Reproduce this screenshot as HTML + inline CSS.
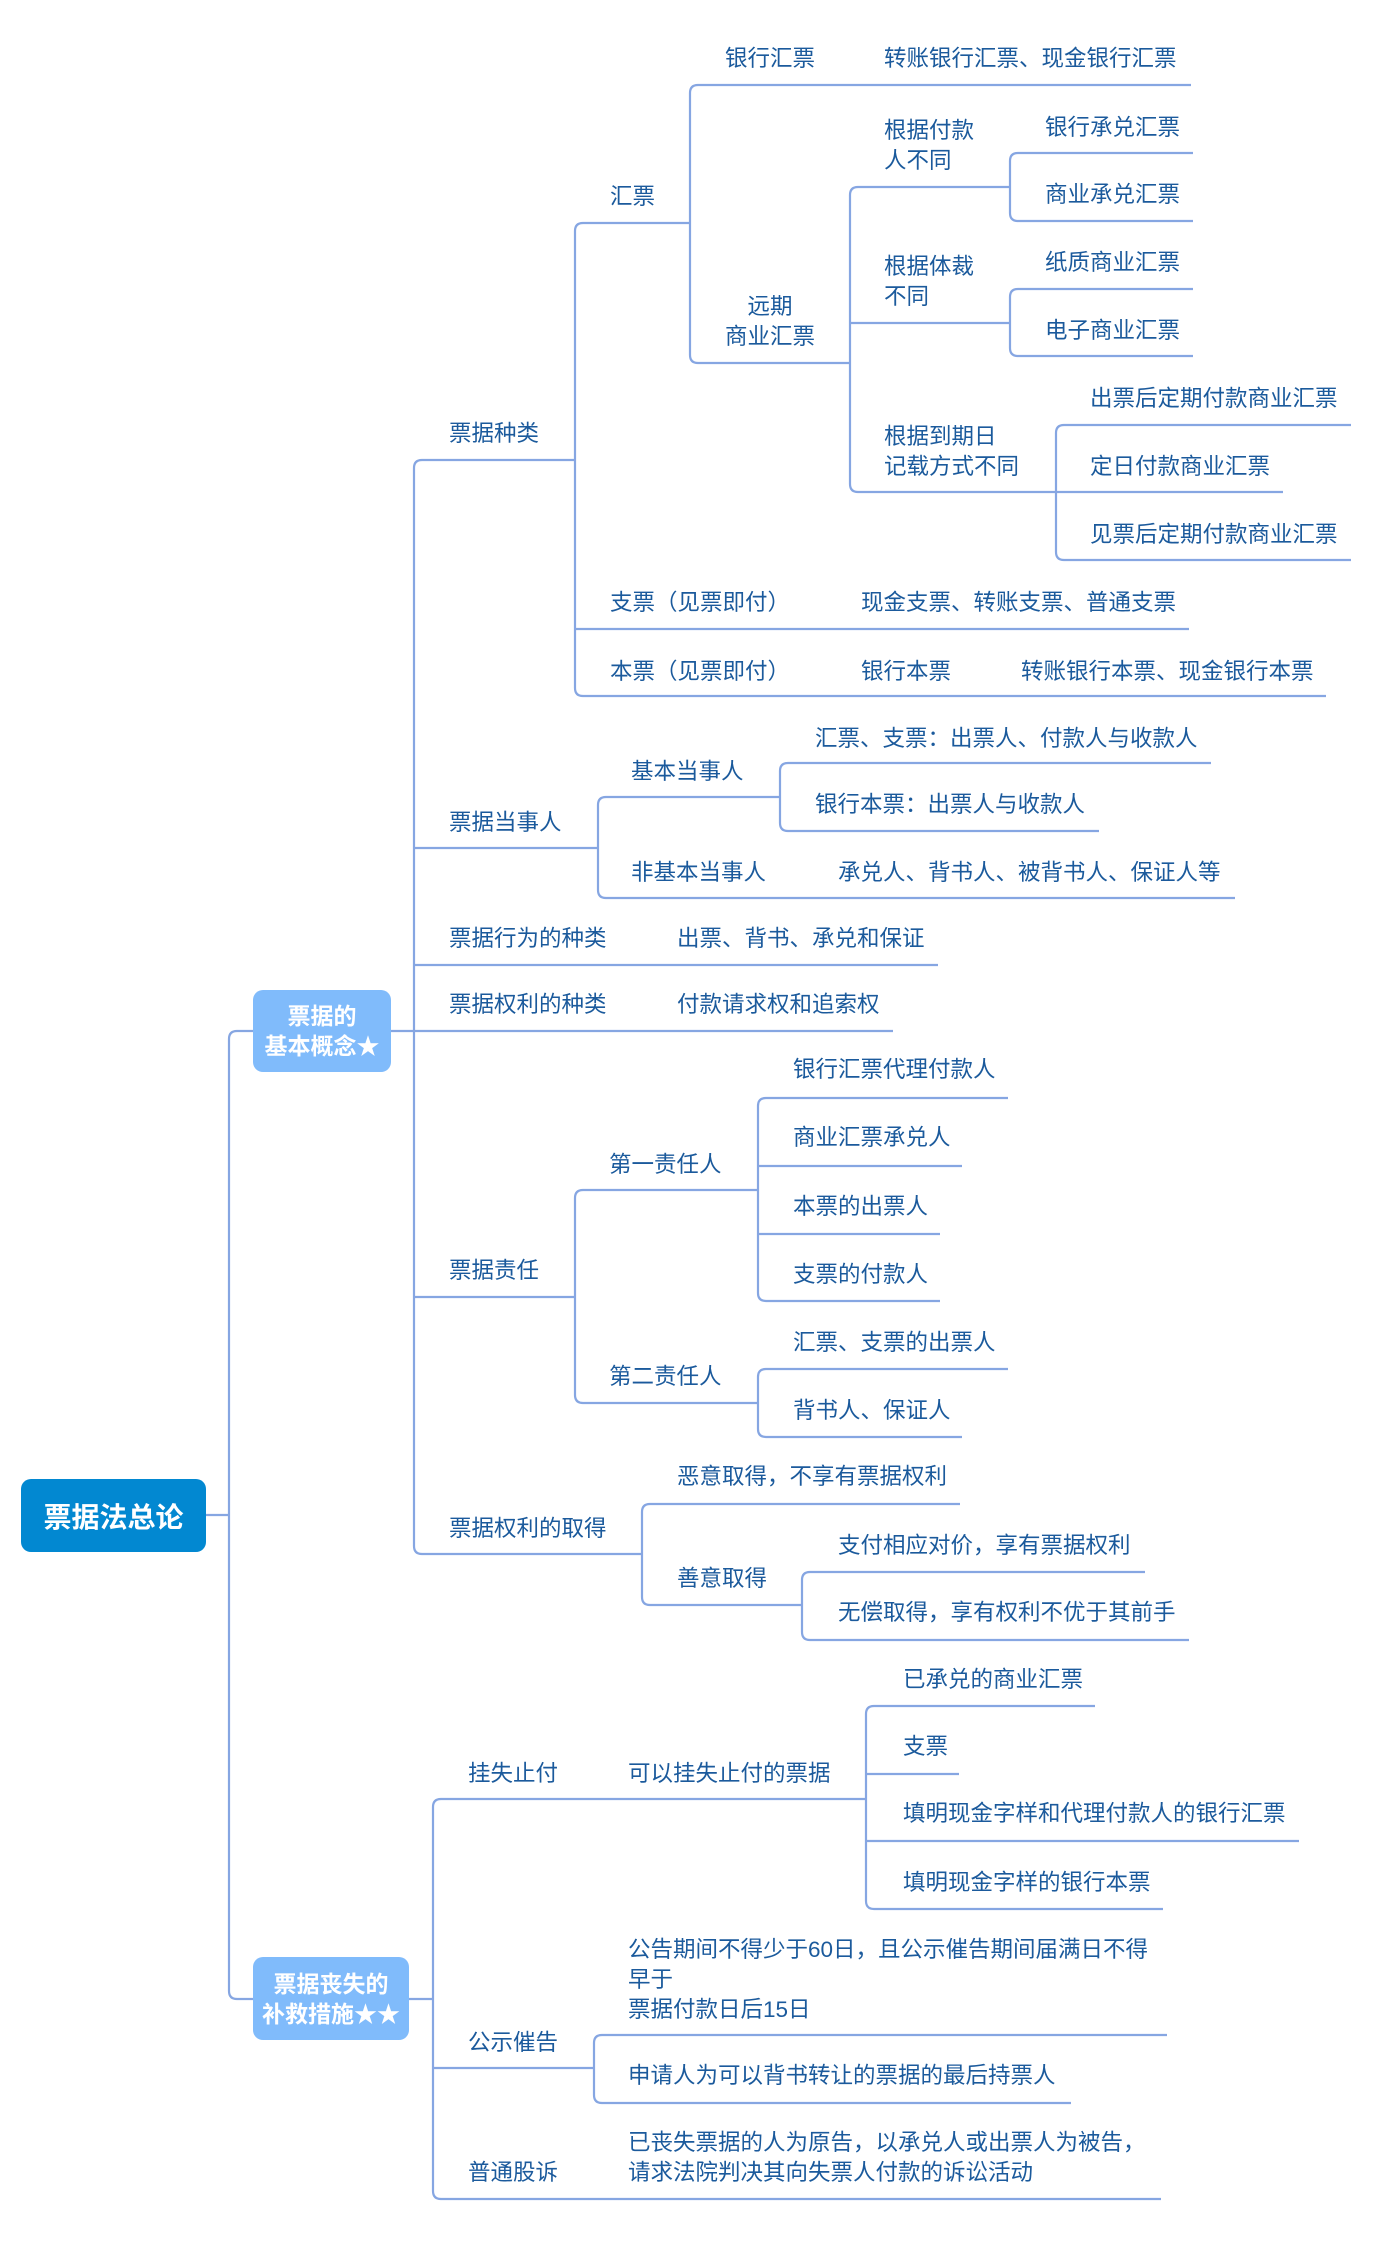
<!DOCTYPE html>
<html><head><meta charset="utf-8">
<style>
html,body{margin:0;padding:0;background:#fff;}
body{width:1386px;height:2247px;position:relative;overflow:hidden;font-family:"Liberation Sans","Noto Sans CJK SC",sans-serif;}
.t{position:absolute;font-size:22.5px;line-height:30px;color:#1b5a9c;white-space:nowrap;}
.b{position:absolute;display:flex;align-items:center;justify-content:center;text-align:center;color:#fff;font-weight:bold;border-radius:10px;}
svg{position:absolute;left:0;top:0;}
</style></head><body>
<svg width="1386" height="2247" fill="none" stroke="#86a6e2" stroke-width="2.2">
<path d="M206,1515 L229,1515"/>
<path d="M253,1031 L237,1031 Q229,1031 229,1039 L229,1991 Q229,1999 237,1999 L253,1999"/>
<path d="M575,460 L422,460 Q414,460 414,468 L414,1546 Q414,1554 422,1554 L642,1554"/>
<path d="M391,1031 L893,1031 M414,848 L598,848 M414,965 L938,965 M414,1297 L575,1297"/>
<path d="M690,223 L583,223 Q575,223 575,231 L575,688 Q575,696 583,696 L1326,696 M575,629 L1189,629"/>
<path d="M1191,85 L698,85 Q690,85 690,93 L690,355 Q690,363 698,363 L850,363"/>
<path d="M1010,187 L858,187 Q850,187 850,195 L850,484 Q850,492 858,492 L1056,492 M850,323 L1010,323"/>
<path d="M1193,153 L1018,153 Q1010,153 1010,161 L1010,213 Q1010,221 1018,221 L1193,221"/>
<path d="M1193,289 L1018,289 Q1010,289 1010,297 L1010,348 Q1010,356 1018,356 L1193,356"/>
<path d="M1351,425 L1064,425 Q1056,425 1056,433 L1056,552 Q1056,560 1064,560 L1351,560 M1056,492 L1283,492"/>
<path d="M780,797 L606,797 Q598,797 598,805 L598,890 Q598,898 606,898 L1235,898"/>
<path d="M1211,763 L788,763 Q780,763 780,771 L780,823 Q780,831 788,831 L1099,831"/>
<path d="M758,1190 L583,1190 Q575,1190 575,1198 L575,1395 Q575,1403 583,1403 L758,1403"/>
<path d="M1008,1098 L766,1098 Q758,1098 758,1106 L758,1293 Q758,1301 766,1301 L940,1301 M758,1166 L962,1166 M758,1234 L940,1234"/>
<path d="M1008,1369 L766,1369 Q758,1369 758,1377 L758,1429 Q758,1437 766,1437 L962,1437"/>
<path d="M960,1504 L650,1504 Q642,1504 642,1512 L642,1597 Q642,1605 650,1605 L802,1605"/>
<path d="M1145,1572 L810,1572 Q802,1572 802,1580 L802,1632 Q802,1640 810,1640 L1189,1640"/>
<path d="M409,1999 L433,1999"/>
<path d="M866,1799 L441,1799 Q433,1799 433,1807 L433,2191 Q433,2199 441,2199 L1161,2199 M433,2068 L594,2068"/>
<path d="M1095,1706 L874,1706 Q866,1706 866,1714 L866,1901 Q866,1909 874,1909 L1163,1909 M866,1774 L959,1774 M866,1841 L1299,1841"/>
<path d="M1167,2035 L602,2035 Q594,2035 594,2043 L594,2095 Q594,2103 602,2103 L1071,2103"/>
</svg>

<div class="b" style="left:21px;top:1479px;width:185px;height:73px;background:#0288d1;font-size:28px;">票据法总论</div>
<div class="b" style="left:253px;top:990px;width:138px;height:82px;background:#80bbfb;font-size:23px;line-height:30px;">票据的<br>基本概念★</div>
<div class="b" style="left:253px;top:1957px;width:156px;height:83px;background:#80bbfb;font-size:23px;line-height:30px;">票据丧失的<br>补救措施★★</div>

<div class="t" style="left:725px;top:44px">银行汇票</div>
<div class="t" style="left:884px;top:44px">转账银行汇票、现金银行汇票</div>
<div class="t" style="left:610px;top:182px">汇票</div>
<div class="t" style="left:725px;top:292px;width:90px;text-align:center">远期<br>商业汇票</div>
<div class="t" style="left:884px;top:116px">根据付款<br>人不同</div>
<div class="t" style="left:1045px;top:113px">银行承兑汇票</div>
<div class="t" style="left:1045px;top:180px">商业承兑汇票</div>
<div class="t" style="left:884px;top:252px">根据体裁<br>不同</div>
<div class="t" style="left:1045px;top:248px">纸质商业汇票</div>
<div class="t" style="left:1045px;top:316px">电子商业汇票</div>
<div class="t" style="left:884px;top:422px">根据到期日<br>记载方式不同</div>
<div class="t" style="left:1090px;top:384px">出票后定期付款商业汇票</div>
<div class="t" style="left:1090px;top:452px">定日付款商业汇票</div>
<div class="t" style="left:1090px;top:520px">见票后定期付款商业汇票</div>
<div class="t" style="left:449px;top:419px">票据种类</div>
<div class="t" style="left:610px;top:588px">支票（见票即付）</div>
<div class="t" style="left:861px;top:588px">现金支票、转账支票、普通支票</div>
<div class="t" style="left:610px;top:657px">本票（见票即付）</div>
<div class="t" style="left:861px;top:657px">银行本票</div>
<div class="t" style="left:1021px;top:657px">转账银行本票、现金银行本票</div>

<div class="t" style="left:815px;top:724px">汇票、支票：出票人、付款人与收款人</div>
<div class="t" style="left:631px;top:757px">基本当事人</div>
<div class="t" style="left:815px;top:790px">银行本票：出票人与收款人</div>
<div class="t" style="left:449px;top:808px">票据当事人</div>
<div class="t" style="left:631px;top:858px">非基本当事人</div>
<div class="t" style="left:838px;top:858px">承兑人、背书人、被背书人、保证人等</div>
<div class="t" style="left:449px;top:924px">票据行为的种类</div>
<div class="t" style="left:677px;top:924px">出票、背书、承兑和保证</div>
<div class="t" style="left:449px;top:990px">票据权利的种类</div>
<div class="t" style="left:677px;top:990px">付款请求权和追索权</div>

<div class="t" style="left:793px;top:1055px">银行汇票代理付款人</div>
<div class="t" style="left:793px;top:1123px">商业汇票承兑人</div>
<div class="t" style="left:793px;top:1192px">本票的出票人</div>
<div class="t" style="left:793px;top:1260px">支票的付款人</div>
<div class="t" style="left:609px;top:1150px">第一责任人</div>
<div class="t" style="left:449px;top:1256px">票据责任</div>
<div class="t" style="left:793px;top:1328px">汇票、支票的出票人</div>
<div class="t" style="left:793px;top:1396px">背书人、保证人</div>
<div class="t" style="left:609px;top:1362px">第二责任人</div>

<div class="t" style="left:677px;top:1462px">恶意取得，不享有票据权利</div>
<div class="t" style="left:449px;top:1514px">票据权利的取得</div>
<div class="t" style="left:677px;top:1564px">善意取得</div>
<div class="t" style="left:838px;top:1531px">支付相应对价，享有票据权利</div>
<div class="t" style="left:838px;top:1598px">无偿取得，享有权利不优于其前手</div>

<div class="t" style="left:468px;top:1759px">挂失止付</div>
<div class="t" style="left:628px;top:1759px">可以挂失止付的票据</div>
<div class="t" style="left:903px;top:1665px">已承兑的商业汇票</div>
<div class="t" style="left:903px;top:1732px">支票</div>
<div class="t" style="left:903px;top:1799px">填明现金字样和代理付款人的银行汇票</div>
<div class="t" style="left:903px;top:1868px">填明现金字样的银行本票</div>
<div class="t" style="left:628px;top:1935px">公告期间不得少于60日，且公示催告期间届满日不得<br>早于<br>票据付款日后15日</div>
<div class="t" style="left:468px;top:2028px">公示催告</div>
<div class="t" style="left:628px;top:2061px">申请人为可以背书转让的票据的最后持票人</div>
<div class="t" style="left:628px;top:2128px">已丧失票据的人为原告，以承兑人或出票人为被告，<br>请求法院判决其向失票人付款的诉讼活动</div>
<div class="t" style="left:468px;top:2158px">普通股诉</div>
</body></html>
